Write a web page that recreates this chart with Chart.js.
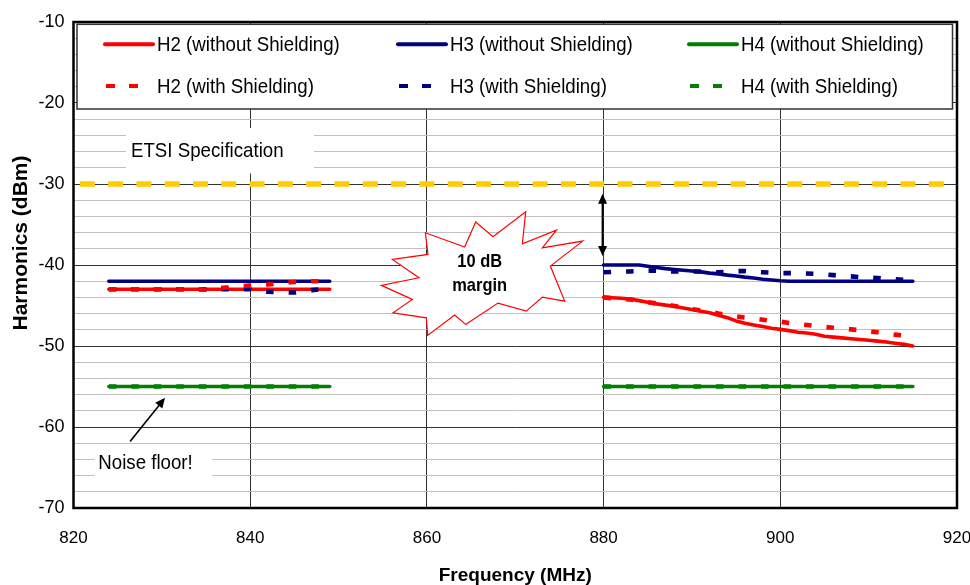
<!DOCTYPE html>
<html><head><meta charset="utf-8">
<script src="https://cdn.jsdelivr.net/npm/chart.js@4.4.1/dist/chart.umd.min.js"></script>
<style>html,body{margin:0;padding:0;background:#fff;}#wrap{width:970px;height:585px;}</style>
</head><body><div id="wrap"><canvas id="c" width="970" height="585"></canvas></div>
<script>
// ---- data ----
const freqLow  = [824,825,826,827,828,829,830,831,832,833,834,835,836,837,838,839,840,841,842,843,844,845,846,847,848,849];
const freqHigh = [880,881,882,883,884,885,886,887,888,889,890,891,892,893,894,895,896,897,898,899,900,901,902,903,904,905,906,907,908,909,910,911,912,913,914,915];

const h2NoShieldLow = [-43,-43,-43,-43,-43,-43,-43,-43,-43,-43,-43,-43,-43,-43,-43,-43,-43,-43,-43,-43,-43,-43,-43,-43,-43,-43];
const h3NoShieldLow = [-42,-42,-42,-42,-42,-42,-42,-42,-42,-42,-42,-42,-42,-42,-42,-42,-42,-42,-42,-42,-42,-42,-42,-42,-42,-42];
const h4NoShieldLow = [-55,-55,-55,-55,-55,-55,-55,-55,-55,-55,-55,-55,-55,-55,-55,-55,-55,-55,-55,-55,-55,-55,-55,-55,-55,-55];
const h2ShieldLow   = [-43,-43,-43,-43,-43,-43,-43,-43,-43,-43,-43,-43.05,-42.9,-42.8,-42.7,-42.6,-42.55,-42.5,-42.4,-42.3,-42.2,-42.1,-42.1,-42.0,-42.0,-42.0];
const h3ShieldLow   = [-43,-43,-43,-43,-43,-43,-43,-43,-43,-43,-43,-43,-43,-43,-43,-43,-43,-43.1,-43.3,-43.35,-43.4,-43.4,-43.3,-43.1,-43.0,-43.0];
const h4ShieldLow   = [-55,-55,-55,-55,-55,-55,-55,-55,-55,-55,-55,-55,-55,-55,-55,-55,-55,-55,-55,-55,-55,-55,-55,-55,-55,-55];

const h2NoShieldHigh = [-44,-44.05,-44.1,-44.2,-44.4,-44.6,-44.8,-44.95,-45.1,-45.3,-45.5,-45.7,-45.9,-46.2,-46.5,-46.9,-47.2,-47.4,-47.6,-47.8,-47.95,-48.1,-48.3,-48.4,-48.55,-48.8,-48.9,-49.0,-49.1,-49.2,-49.3,-49.4,-49.5,-49.65,-49.8,-50.0];
const h3NoShieldHigh = [-40,-40,-40,-40,-40,-40.15,-40.3,-40.45,-40.55,-40.65,-40.75,-40.85,-41.0,-41.1,-41.25,-41.35,-41.5,-41.6,-41.75,-41.85,-41.95,-42,-42,-42,-42,-42,-42,-42,-42,-42,-42,-42,-42,-42,-42,-42];
const h4NoShieldHigh = [-55,-55,-55,-55,-55,-55,-55,-55,-55,-55,-55,-55,-55,-55,-55,-55,-55,-55,-55,-55,-55,-55,-55,-55,-55,-55,-55,-55,-55,-55,-55,-55,-55,-55,-55,-55];
const h2ShieldHigh   = [-44,-44.1,-44.2,-44.25,-44.4,-44.6,-44.75,-44.9,-45.05,-45.25,-45.45,-45.6,-45.75,-46.0,-46.2,-46.35,-46.5,-46.6,-46.75,-46.9,-47.0,-47.15,-47.3,-47.4,-47.55,-47.65,-47.75,-47.85,-47.95,-48.05,-48.2,-48.3,-48.45,-48.6,-48.7,-48.8];
const h3ShieldHigh   = [-40.9,-40.85,-40.8,-40.8,-40.75,-40.7,-40.7,-40.75,-40.8,-40.8,-40.8,-40.8,-40.85,-40.9,-40.85,-40.75,-40.75,-40.85,-40.9,-40.95,-41.0,-41.0,-41.0,-41.05,-41.1,-41.15,-41.25,-41.35,-41.4,-41.5,-41.55,-41.6,-41.7,-41.75,-41.85,-41.9];
const h4ShieldHigh   = [-55,-55,-55,-55,-55,-55,-55,-55,-55,-55,-55,-55,-55,-55,-55,-55,-55,-55,-55,-55,-55,-55,-55,-55,-55,-55,-55,-55,-55,-55,-55,-55,-55,-55,-55,-55];

const etsiFreq  = [820, 920];
const etsiLimit = [-30, -30];

const seriesLabels = ['H2 (without Shielding)','H3 (without Shielding)','H4 (without Shielding)',
                      'H2 (with Shielding)','H3 (with Shielding)','H4 (with Shielding)'];
const xTicks = [820, 840, 860, 880, 900, 920];
const yTicks = [-70, -60, -50, -40, -30, -20, -10];

// ---- helpers ----
const FONT = "'Liberation Sans', Arial, sans-serif";
function joinBands(low, high) {
  return freqLow.map((f, i) => ({x: f, y: low[i]}))
    .concat([{x: (freqLow[freqLow.length-1] + freqHigh[0]) / 2, y: null}])
    .concat(freqHigh.map((f, i) => ({x: f, y: high[i]})));
}
const RED = '#FF0000', NAVY = '#000080', GREEN = '#008000';
const DASH = [7.5, 15];
function solid(label, low, high, color) {
  return {label, data: joinBands(low, high), borderColor: color, backgroundColor: color,
    borderWidth: 3.6, showLine: true, pointRadius: 0, borderCapStyle: 'round', borderJoinStyle: 'round', order: 2};
}
function dashed(label, low, high, color) {
  return {label, data: joinBands(low, high), borderColor: color, backgroundColor: color,
    borderWidth: 4.6, borderDash: DASH, showLine: true, pointRadius: 0, borderCapStyle: 'butt', order: 1};
}
const datasets = [
  solid(seriesLabels[0], h2NoShieldLow, h2NoShieldHigh, RED),
  solid(seriesLabels[1], h3NoShieldLow, h3NoShieldHigh, NAVY),
  solid(seriesLabels[2], h4NoShieldLow, h4NoShieldHigh, GREEN),
  dashed(seriesLabels[3], h2ShieldLow, h2ShieldHigh, RED),
  dashed(seriesLabels[4], h3ShieldLow, h3ShieldHigh, NAVY),
  dashed(seriesLabels[5], h4ShieldLow, h4ShieldHigh, GREEN),
  {label: 'ETSI Specification', data: etsiFreq.map((f, i) => ({x: f, y: etsiLimit[i]})),
   borderColor: '#FFCC00', borderWidth: 5.5, borderDash: [15, 13.3], borderDashOffset: 22,
   showLine: true, pointRadius: 0, borderCapStyle: 'butt', order: 3}
];

function sText(ctx, s, x, y, font, sx, align) {
  ctx.save();
  ctx.font = font; ctx.textBaseline = 'middle'; ctx.textAlign = align || 'left';
  ctx.fillStyle = '#000';
  ctx.translate(x, y); ctx.scale(sx, 1); ctx.fillText(s, 0, 0);
  ctx.restore();
}
function arrowHead(ctx, x1, y1, x2, y2, len, half) {
  const a = Math.atan2(y2 - y1, x2 - x1);
  ctx.beginPath();
  ctx.moveTo(x2, y2);
  ctx.lineTo(x2 - len * Math.cos(a) + half * Math.sin(a), y2 - len * Math.sin(a) - half * Math.cos(a));
  ctx.lineTo(x2 - len * Math.cos(a) - half * Math.sin(a), y2 - len * Math.sin(a) + half * Math.cos(a));
  ctx.closePath(); ctx.fill();
}
// star outline (pixel offsets around its centre)
const starShape = [[-16,51.3],[-27,42],[-54,62.3],[-55.3,44.7],[-88.7,39.7],[-69.3,26.3],[-100.3,12.3],[-62.7,4.7],[-89.3,-13.7],[-53.7,-18.7],[-56.3,-40.3],[-17,-26],[-6,-51],[11.3,-36.3],[44,-61.3],[40.7,-29.3],[74.7,-43],[60.7,-25.3],[101,-32],[68.7,-7],[83,28],[60.7,24],[44.7,38],[16.3,30]];

const annot = {
  id: 'annot',
  beforeDatasetsDraw(chart) {
    const {ctx, chartArea: ca, scales: {x, y}} = chart;
    ctx.save();
    ctx.fillStyle = '#fff';
    // legend box
    ctx.fillRect(ca.left + 3.5, ca.top + 2.3, ca.right - ca.left - 8, 84.7);
    ctx.strokeStyle = '#333'; ctx.lineWidth = 1.5;
    ctx.strokeRect(ca.left + 3.5, ca.top + 2.3, ca.right - ca.left - 8, 84.7);
    // ETSI label box
    const ex0 = x.getPixelForValue(825.94), ex1 = x.getPixelForValue(847.2);
    const ey0 = y.getPixelForValue(-23.1), ey1 = y.getPixelForValue(-28.7);
    ctx.fillRect(ex0, ey0, ex1 - ex0, ey1 - ey0);
    // noise floor label box
    const nx0 = x.getPixelForValue(822.4), nx1 = x.getPixelForValue(835.7);
    const ny0 = y.getPixelForValue(-62.6), ny1 = y.getPixelForValue(-67.6);
    ctx.fillRect(nx0, ny0, nx1 - nx0, ny1 - ny0);
    // star
    const cx = x.getPixelForValue(866.2), cy = y.getPixelForValue(-41.0);
    ctx.beginPath();
    starShape.forEach((p, i) => i ? ctx.lineTo(cx + p[0], cy + p[1]) : ctx.moveTo(cx + p[0], cy + p[1]));
    ctx.closePath();
    ctx.fillStyle = '#fff'; ctx.fill();
    ctx.strokeStyle = '#FF0000'; ctx.lineWidth = 1.2; ctx.lineJoin = 'miter'; ctx.stroke();
    ctx.restore();
  },
  afterDatasetsDraw(chart) {
    const {ctx, chartArea: ca, scales: {x, y}} = chart;
    ctx.save();
    // legend entries
    const colX = [ca.left + 31.5, ca.left + 324.5, ca.left + 615.5];
    const rowY = [ca.top + 22.3, ca.top + 64];
    for (let i = 0; i < 6; i++) {
      const ds = chart.data.datasets[i];
      const cxl = colX[i % 3], ry = rowY[Math.floor(i / 3)];
      ctx.strokeStyle = ds.borderColor; ctx.lineWidth = 4;
      if (ds.borderDash) { ctx.setLineDash([9, 14]); ctx.lineCap = 'butt';
        ctx.beginPath(); ctx.moveTo(cxl + 1, ry); ctx.lineTo(cxl + 33, ry); ctx.stroke(); }
      else { ctx.setLineDash([]); ctx.lineCap = 'round';
        ctx.beginPath(); ctx.moveTo(cxl, ry); ctx.lineTo(cxl + 48, ry); ctx.stroke(); }
      ctx.setLineDash([]);
      sText(ctx, ds.label, cxl + 52, ry + 1, '21px ' + FONT, 0.89);
    }
    // ETSI text
    sText(ctx, 'ETSI Specification', x.getPixelForValue(826.5), y.getPixelForValue(-25.9), '21px ' + FONT, 0.89);
    // Noise floor text + arrow
    sText(ctx, 'Noise floor!', x.getPixelForValue(822.8), y.getPixelForValue(-64.5), '21px ' + FONT, 0.89);
    ctx.strokeStyle = '#000'; ctx.fillStyle = '#000'; ctx.lineWidth = 1.6; ctx.lineCap = 'butt';
    let ax1 = x.getPixelForValue(826.4), ay1 = y.getPixelForValue(-61.8);
    let ax2 = x.getPixelForValue(830.36), ay2 = y.getPixelForValue(-56.4);
    ctx.beginPath(); ctx.moveTo(ax1, ay1); ctx.lineTo(ax2 - (ax2 - ax1) * 0.15, ay2 - (ay2 - ay1) * 0.15); ctx.stroke();
    arrowHead(ctx, ax1, ay1, ax2, ay2, 10, 4.5);
    // 10 dB margin double arrow
    const mx = x.getPixelForValue(880) - 1, my1 = y.getPixelForValue(-31.2), my2 = y.getPixelForValue(-38.9);
    ctx.lineWidth = 2;
    ctx.beginPath(); ctx.moveTo(mx, my1 + 8); ctx.lineTo(mx, my2 - 8); ctx.stroke();
    arrowHead(ctx, mx, my2, mx, my1, 10, 4.5);
    arrowHead(ctx, mx, my1, mx, my2, 10, 4.5);
    // star text
    const cx = x.getPixelForValue(866.2), cy = y.getPixelForValue(-41.0);
    sText(ctx, '10 dB', cx - 2, cy - 11, 'bold 18.5px ' + FONT, 0.89, 'center');
    sText(ctx, 'margin', cx - 2, cy + 13, 'bold 18.5px ' + FONT, 0.89, 'center');
    // plot border
    ctx.strokeStyle = '#000'; ctx.lineWidth = 2.5;
    ctx.strokeRect(ca.left, ca.top, ca.right - ca.left, ca.bottom - ca.top);
    // y axis title
    ctx.save();
    ctx.translate(21, 243); ctx.rotate(-Math.PI / 2);
    ctx.font = 'bold 21px ' + FONT; ctx.textAlign = 'center'; ctx.textBaseline = 'middle'; ctx.fillStyle = '#000';
    ctx.fillText('Harmonics (dBm)', 0, 0);
    ctx.restore();
    ctx.restore();
  }
};

new Chart(document.getElementById('c'), {
  type: 'scatter',
  data: {datasets},
  options: {
    responsive: false, animation: false, devicePixelRatio: 1,
    layout: {padding: {top: 22, right: 13, left: 0, bottom: 0}},
    plugins: {legend: {display: false}, tooltip: {enabled: false}},
    scales: {
      x: {
        type: 'linear', min: xTicks[0], max: xTicks[xTicks.length - 1],
        afterBuildTicks: s => { s.ticks = xTicks.map(v => ({value: v})); },
        ticks: {color: '#000', padding: 20, font: {family: FONT, size: 17}, maxRotation: 0},
        grid: {color: '#333', lineWidth: 1, drawTicks: false},
        border: {display: false},
        title: {display: true, text: 'Frequency (MHz)', color: '#000', padding: {top: 0, bottom: 0},
                font: {family: FONT, size: 19, weight: 'bold', lineHeight: 1}},
        afterFit: s => { s.height = 77; s.paddingLeft = 0; s.paddingRight = 0; }
      },
      y: {
        type: 'linear', min: yTicks[0], max: yTicks[yTicks.length - 1],
        ticks: {stepSize: 2, autoSkip: false, color: '#000', padding: 9, font: {family: FONT, size: 18},
                callback: v => yTicks.includes(Math.round(v)) && Math.abs(v - Math.round(v)) < 1e-6 ? String(Math.round(v)) : ''},
        grid: {color: c => (Math.abs(c.tick.value % 10) < 1e-6 ? '#333' : '#c0c0c0'), lineWidth: 1, drawTicks: false},
        border: {display: false},
        afterFit: s => { s.width = 73.5; s.paddingTop = 0; s.paddingBottom = 0; }
      }
    }
  },
  plugins: [annot]
});
</script>
</body></html>
